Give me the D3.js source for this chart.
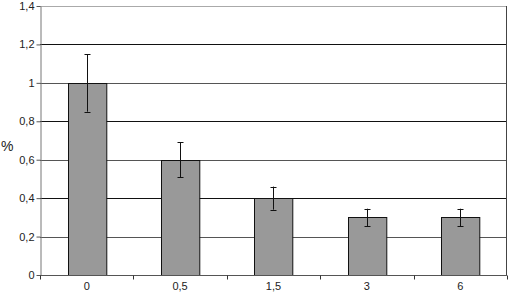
<!DOCTYPE html>
<html>
<head>
<meta charset="utf-8">
<script src="https://cdn.jsdelivr.net/npm/d3@7"></script>
<style>
  body { margin: 0; background: #fff; }
  svg { display: block; font-family: "Liberation Sans", Arial, sans-serif; }
</style>
</head>
<body>
<div id="chart"></div>
<script>
// data
const categories = ['0', '0,5', '1,5', '3', '6'];
const values = [1.0, 0.6, 0.4, 0.3, 0.3];
const errors = [0.15, 0.09, 0.06, 0.045, 0.045];
const yTicks = [0, 0.2, 0.4, 0.6, 0.8, 1, 1.2, 1.4];

const W = 508, H = 297;
const margin = { top: 6, right: 1, bottom: 22, left: 40 };
const iw = W - margin.left - margin.right;
const ih = H - margin.top - margin.bottom;

const svg = d3.select('#chart').append('svg')
  .attr('width', W).attr('height', H);
const g = svg.append('g')
  .attr('transform', `translate(${margin.left},${margin.top})`);

const x = d3.scaleBand().domain(categories).range([0, iw]).paddingInner(0.59).paddingOuter(0.295);
const y = d3.scaleLinear().domain([0, 1.4]).range([ih, 0]);
const fmt = d => String(d).replace('.', ',');

// gridlines
g.selectAll('.grid').data(yTicks.filter(d => d > 0)).enter()
  .append('line')
  .attr('x1', 0).attr('x2', iw)
  .attr('y1', d => Math.round(y(d)) + 0.5).attr('y2', d => Math.round(y(d)) + 0.5)
  .attr('stroke', (d, i) => d === 1.4 ? '#aaa' : (i % 2 === 0 ? '#555' : '#111'))
  .attr('stroke-width', 1);

// right border
g.append('line')
  .attr('x1', iw - 0.5).attr('x2', iw - 0.5)
  .attr('y1', y(1.4)).attr('y2', ih)
  .attr('stroke', '#444');

// bars
g.selectAll('.bar').data(values).enter()
  .append('rect')
  .attr('x', (d, i) => Math.round(x(categories[i])) + 0.5)
  .attr('y', d => Math.round(y(d)) + 0.5)
  .attr('width', x.bandwidth())
  .attr('height', d => ih - Math.round(y(d)))
  .attr('fill', '#999')
  .attr('stroke', '#111');

// error bars
const eb = g.selectAll('.err').data(values).enter().append('g')
  .attr('transform', (d, i) => `translate(${Math.round(x(categories[i]) + x.bandwidth() / 2) + 0.5},0)`);
eb.append('line')
  .attr('y1', (d, i) => y(d + errors[i])).attr('y2', (d, i) => y(d - errors[i]))
  .attr('stroke', '#111');
eb.append('line')
  .attr('x1', -3).attr('x2', 3)
  .attr('y1', (d, i) => Math.round(y(d + errors[i])) + 0.5).attr('y2', (d, i) => Math.round(y(d + errors[i])) + 0.5)
  .attr('stroke', '#111');
eb.append('line')
  .attr('x1', -3).attr('x2', 3)
  .attr('y1', (d, i) => Math.round(y(d - errors[i])) + 0.5).attr('y2', (d, i) => Math.round(y(d - errors[i])) + 0.5)
  .attr('stroke', '#111');

// y axis
const yAxis = g.append('g').attr('transform', 'translate(0.5,0)')
  .call(d3.axisLeft(y).tickValues(yTicks).tickFormat(fmt).tickSize(4).tickSizeOuter(0));
yAxis.select('.domain').attr('stroke', '#777');
yAxis.selectAll('.tick line').attr('stroke', '#555');
yAxis.selectAll('.tick text').attr('font-size', 11).attr('fill', '#222')
  .attr('font-family', '"Liberation Sans", Arial, sans-serif').attr('x', -6);

// x axis
const xAxis = g.append('g').attr('transform', `translate(0,${ih + 0.5})`);
xAxis.append('line').attr('x1', 0).attr('x2', iw).attr('stroke', '#555');
const step = x.step();
xAxis.selectAll('.xt').data(d3.range(categories.length + 1)).enter()
  .append('line')
  .attr('x1', i => Math.round(i * step) + 0.5).attr('x2', i => Math.round(i * step) + 0.5)
  .attr('y1', 0).attr('y2', 4)
  .attr('stroke', '#333');
xAxis.selectAll('.xl').data(categories).enter()
  .append('text')
  .attr('x', d => x(d) + x.bandwidth() / 2)
  .attr('y', 14)
  .attr('text-anchor', 'middle')
  .attr('font-size', 11)
  .attr('fill', '#222')
  .text(d => d);

// y label
svg.append('text')
  .attr('x', 1).attr('y', 151)
  .attr('font-size', 14)
  .attr('fill', '#222')
  .text('%');
</script>
</body>
</html>
